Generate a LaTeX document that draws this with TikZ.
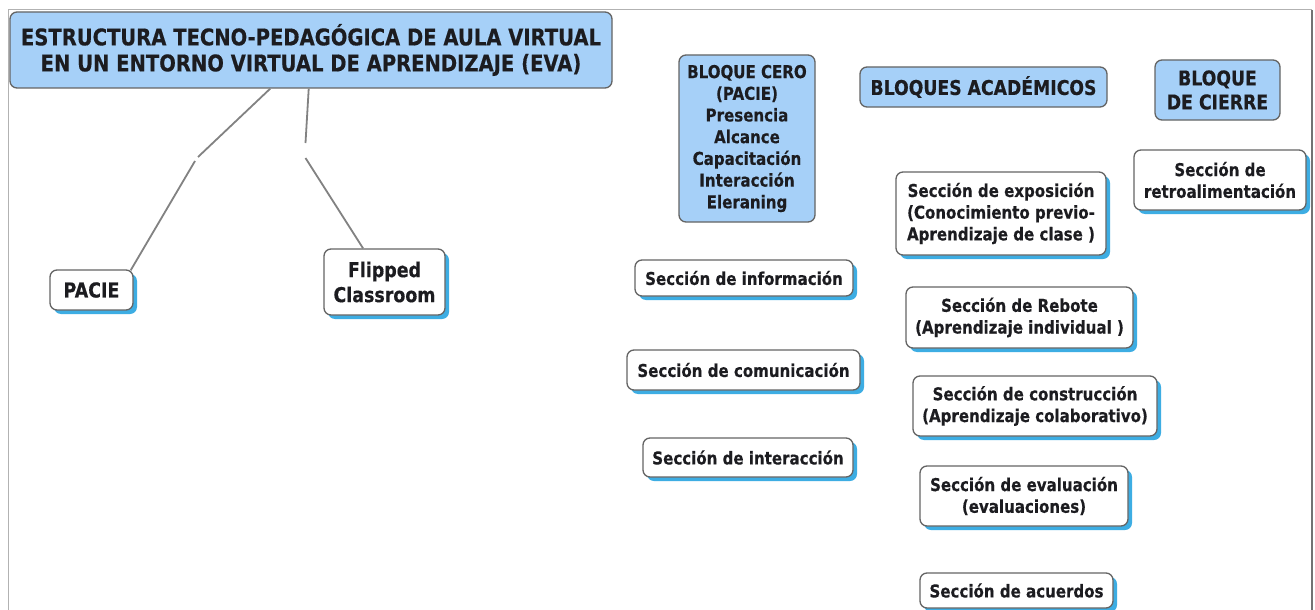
\documentclass[tikz,border=0pt]{standalone}
\usepackage{fontspec}
\setmainfont{DejaVu Sans}[FakeStretch=0.85, BoldFeatures={FakeBold=0.4}]
\usetikzlibrary{shadows}
\definecolor{lightblue}{RGB}{166,208,248}
\definecolor{bordergray}{RGB}{100,100,100}
\definecolor{textc}{RGB}{28,28,32}
\definecolor{shadowblue}{RGB}{40,165,225}
\definecolor{linkgray}{RGB}{130,130,130}
\tikzset{
  box/.style={draw=bordergray, line width=1.3pt, rounded corners=7pt, align=center,
    inner sep=0pt, text=textc, font=\bfseries\fontsize{17.7}{21.7}\selectfont},
  wbox/.style={box, fill=white, drop shadow={shadow xshift=4pt, shadow yshift=-4pt, fill=shadowblue, opacity=0.9}},
  bbox/.style={box, fill=lightblue},
  bigtext/.style={font=\bfseries\fontsize{20.5}{25}\selectfont},
  link/.style={draw=linkgray, line width=1.8pt},
  frame/.style={draw=gray!60, line width=1pt}
}
\begin{document}
\begin{tikzpicture}[x=1pt,y=-1pt]
\useasboundingbox (0,0) rectangle (1315,610);
\fill[white] (0,0) rectangle (1315,610);
\draw[frame] (8,610) -- (8,10) -- (1312,10);
\draw[draw=gray!90!black, line width=1.3pt] (1312,10) -- (1312,610);

\node[bbox, minimum width=602pt, minimum height=76pt, font=\bfseries\fontsize{23}{26}\selectfont] (title) at (311,50)
  {ESTRUCTURA TECNO-PEDAGÓGICA DE AULA VIRTUAL\\EN UN ENTORNO VIRTUAL DE APRENDIZAJE (EVA)};
\node[wbox, bigtext, minimum width=83pt, minimum height=40pt] (pacie) at (91.5,290) {PACIE};
\node[wbox, bigtext, minimum width=121pt, minimum height=66pt] (flipped) at (384.5,282) {Flipped\\Classroom};

\node[bbox, minimum width=136pt, minimum height=167pt] (cero) at (747,138.5)
  {BLOQUE CERO\\(PACIE)\\Presencia\\Alcance\\Capacitación\\Interacción\\Eleraning};
\node[bbox, minimum width=247pt, minimum height=40pt, font=\bfseries\fontsize{20.3}{22}\selectfont] (academicos) at (983.5,87) {BLOQUES ACADÉMICOS};
\node[bbox, minimum width=125pt, minimum height=60pt, font=\bfseries\fontsize{20.3}{24}\selectfont] (cierre) at (1217.5,90) {BLOQUE\\DE CIERRE};

\node[wbox, minimum width=172pt, minimum height=60pt] (retro) at (1220,180) {Sección de\\retroalimentación};
\node[wbox, minimum width=210pt, minimum height=83pt] (expos) at (1001,213.5)
  {Sección de exposición\\(Conocimiento previo-\\Aprendizaje de clase )};
\node[wbox, minimum width=218pt, minimum height=36pt] (info) at (744,278) {Sección de información};
\node[wbox, minimum width=227pt, minimum height=61pt] (rebote) at (1019.5,317.5) {Sección de Rebote\\(Aprendizaje individual )};
\node[wbox, minimum width=233pt, minimum height=40pt] (comun) at (743.5,370) {Sección de comunicación};
\node[wbox, minimum width=244pt, minimum height=60pt] (constr) at (1035,406) {Sección de construcción\\(Aprendizaje colaborativo)};
\node[wbox, minimum width=210pt, minimum height=39pt] (inter) at (748,457.5) {Sección de interacción};
\node[wbox, minimum width=208pt, minimum height=60pt] (eval) at (1024,496) {Sección de evaluación\\(evaluaciones)};
\node[wbox, minimum width=193pt, minimum height=35pt] (acuerdos) at (1016.5,590.5) {Sección de acuerdos};

\coordinate (l1a) at (198,157);
\coordinate (l1b) at (195,161);
\coordinate (l2a) at (305.5,143);
\coordinate (l2b) at (305.5,158);
\draw[link] (title) -- (l1a);
\draw[link] (l1b) -- ([xshift=-3pt,yshift=-1pt]pacie.north east);
\draw[link] (title) -- (l2a);
\draw[link] (l2b) -- (flipped);
\end{tikzpicture}
\end{document}
